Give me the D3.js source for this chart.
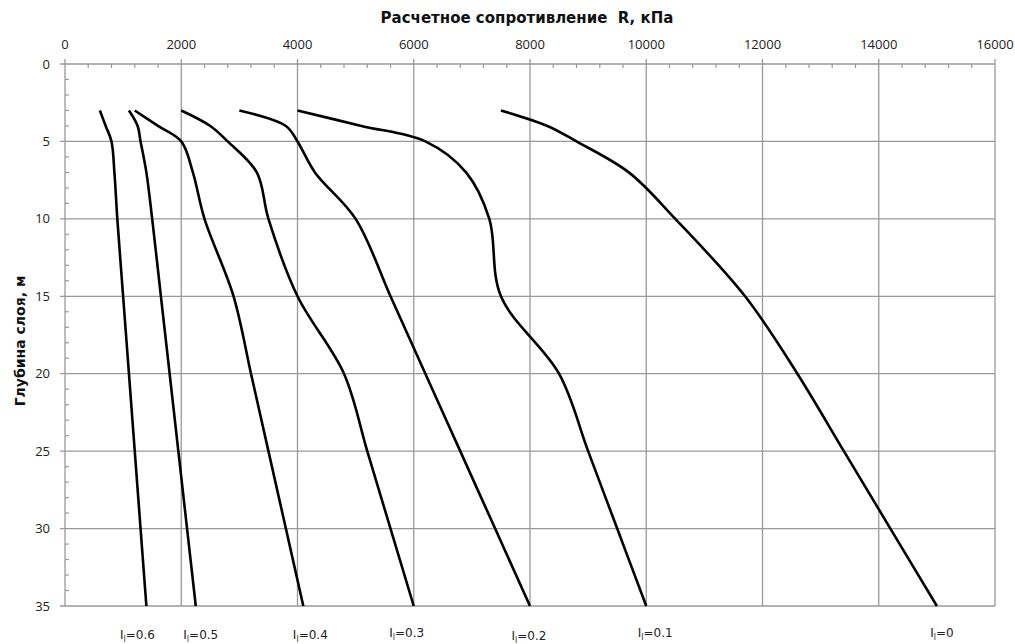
<!DOCTYPE html>
<html>

<head>
    <meta http-equiv="Content-Type" content="text/html" charset="UTF-8">
    <title>Расчетное сопротивление R</title>
    <script src="https://cdn.jsdelivr.net/npm/d3@7"></script>
    <style>
        body {
            margin: 0;
            background: #fff;
        }

        text {
            font-family: "Open Sans", sans-serif;
            fill: #222;
        }

        .title {
            font-family: "DejaVu Sans", sans-serif;
            font-weight: bold;
            fill: #111;
        }

        .curve-label {
            font-family: "DejaVu Sans", sans-serif;
            font-size: 12px;
        }
    </style>
</head>
<body>
<div id="chart"></div>
<script>

    // Depths of the pile tip, m
    var depths = [3, 4, 5, 7, 10, 15, 20, 25, 30, 35];

    // Resistance R, kPa, one array per liquidity index
    var r00 = [7500, 8300, 8800, 9700, 10500, 11700, 12600, 13400, 14200, 15000];
    var r01 = [4000, 5100, 6200, 6900, 7300, 7500, 8500, 9000, 9500, 10000];
    var r02 = [3000, 3800, 4000, 4300, 5000, 5600, 6200, 6800, 7400, 8000];
    var r03 = [2000, 2500, 2800, 3300, 3500, 4000, 4800, 5200, 5600, 6000];
    var r04 = [1200, 1600, 2000, 2200, 2400, 2900, 3200, 3500, 3800, 4100];
    var r05 = [1100, 1250, 1300, 1400, 1500, 1650, 1800, 1950, 2100, 2250];
    var r06 = [600, 700, 800, 850, 900, 1000, 1100, 1200, 1300, 1400];

    var seriesValues = [r00, r01, r02, r03, r04, r05, r06];
    var seriesNames = ["0", "0.1", "0.2", "0.3", "0.4", "0.5", "0.6"];

    var xTicks = [0, 2000, 4000, 6000, 8000, 10000, 12000, 14000, 16000];
    var yTicks = [0, 5, 10, 15, 20, 25, 30, 35];

    var width = 1015, height = 644;
    var margin = {top: 64, right: 20, bottom: 38, left: 65};

    var svg = d3.select("#chart").append("svg")
        .attr("width", width)
        .attr("height", height);

    var x = d3.scaleLinear().domain([0, 16000]).range([margin.left, width - margin.right]);
    var y = d3.scaleLinear().domain([0, 35]).range([margin.top, height - margin.bottom]);

    var gridColor = "#999";

    // Grid lines
    svg.append("g").selectAll("line")
        .data(xTicks)
        .enter().append("line")
        .attr("x1", function (d) { return x(d); })
        .attr("x2", function (d) { return x(d); })
        .attr("y1", y(0) - 5)
        .attr("y2", y(35))
        .attr("stroke", gridColor)
        .attr("stroke-width", 1.3);

    svg.append("g").selectAll("line")
        .data(yTicks)
        .enter().append("line")
        .attr("x1", x(0) - 5)
        .attr("x2", x(16000))
        .attr("y1", function (d) { return y(d); })
        .attr("y2", function (d) { return y(d); })
        .attr("stroke", gridColor)
        .attr("stroke-width", 1.3);

    // Minor ticks, pointing inside the plot
    svg.append("g").selectAll("line")
        .data(d3.range(400, 16000, 400).filter(function (d) { return d % 2000 !== 0; }))
        .enter().append("line")
        .attr("x1", function (d) { return x(d); })
        .attr("x2", function (d) { return x(d); })
        .attr("y1", y(0))
        .attr("y2", y(0) + 4)
        .attr("stroke", gridColor)
        .attr("stroke-width", 1.2);

    svg.append("g").selectAll("line")
        .data(d3.range(1, 35).filter(function (d) { return d % 5 !== 0; }))
        .enter().append("line")
        .attr("x1", x(0))
        .attr("x2", x(0) + 4)
        .attr("y1", function (d) { return y(d); })
        .attr("y2", function (d) { return y(d); })
        .attr("stroke", gridColor)
        .attr("stroke-width", 1.2);

    // Tick labels
    svg.append("g").selectAll("text")
        .data(xTicks)
        .enter().append("text")
        .attr("x", function (d) { return x(d); })
        .attr("y", y(0) - 15)
        .attr("text-anchor", "middle")
        .style("font-size", "13px")
        .text(function (d) { return d; });

    svg.append("g").selectAll("text")
        .data(yTicks)
        .enter().append("text")
        .attr("x", x(0) - 15)
        .attr("y", function (d) { return y(d); })
        .attr("dy", "0.35em")
        .attr("text-anchor", "end")
        .style("font-size", "13px")
        .text(function (d) { return d; });

    // Axis titles
    svg.append("text")
        .attr("class", "title")
        .attr("x", 527)
        .attr("y", 23)
        .attr("text-anchor", "middle")
        .attr("xml:space", "preserve")
        .style("font-size", "15px")
        .text("Расчетное сопротивление  R, кПа");

    svg.append("text")
        .attr("class", "title")
        .attr("transform", "translate(25,341) rotate(-90)")
        .attr("text-anchor", "middle")
        .style("font-size", "14px")
        .text("Глубина слоя, м");

    // Curves
    var line = d3.line()
        .x(function (d) { return x(d[0]); })
        .y(function (d) { return y(d[1]); })
        .curve(d3.curveCatmullRom.alpha(0.5));

    svg.append("g").selectAll("path")
        .data(seriesValues)
        .enter().append("path")
        .attr("d", function (vals) {
            return line(vals.map(function (v, i) { return [v, depths[i]]; }));
        })
        .attr("fill", "none")
        .attr("stroke", "#000")
        .attr("stroke-width", 2.6);

    // Curve labels under the end of each line
    var labelShift = [5, 9, -1, -7, 7, 5, -9];
    var labelBase = [637, 637, 640, 637, 639, 639, 639];
    var labels = svg.append("g").selectAll("text")
        .data(seriesValues)
        .enter().append("text")
        .attr("class", "curve-label")
        .attr("x", function (vals, i) { return x(vals[vals.length - 1]) + labelShift[i]; })
        .attr("y", function (vals, i) { return labelBase[i]; })
        .attr("text-anchor", "middle");

    labels.append("tspan").text("I");
    labels.append("tspan")
        .attr("dy", 3)
        .style("font-size", "8px")
        .text("l");
    labels.append("tspan")
        .attr("dy", -3)
        .text(function (vals, i) { return "=" + seriesNames[i]; });

</script>
</body>
</html>
